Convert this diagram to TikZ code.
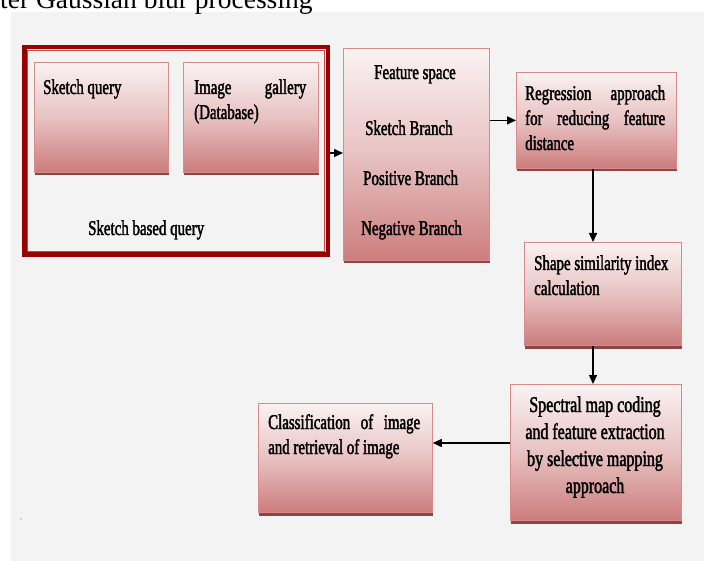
\documentclass[tikz,border=0pt]{standalone}
\usepackage{fontspec}
\setmainfont{Liberation Serif}[FakeStretch=0.71,FakeBold=1.8]
\newfontfamily\capfont{Liberation Serif}
\usetikzlibrary{arrows.meta}
\definecolor{bg}{HTML}{F3F3F3}
\definecolor{frameRed}{HTML}{990000}
\definecolor{frameIn}{HTML}{C04848}
\definecolor{boxTop}{HTML}{FAF2F2}
\definecolor{boxMid}{HTML}{E8C2C2}
\definecolor{boxBot}{HTML}{CC7C7C}
\definecolor{boxEdge}{HTML}{D88A8A}
\definecolor{boxShade}{HTML}{8A4545}
\tikzset{
  pbox/.style={rectangle, draw=boxEdge, line width=0.8pt, top color=boxTop, bottom color=boxBot, middle color=boxMid, inner sep=0pt, anchor=north west},
  lbl/.style={inner sep=0pt, anchor=base west, font=\fontsize{21}{25}\selectfont},
  biglbl/.style={inner sep=0pt, anchor=base, font=\fontsize{22.5}{27}\selectfont},
  arr/.style={line width=1.5pt, -{Triangle[length=9pt,width=8pt]}},
}
\newcommand\mybox[5]{%
  \fill[boxShade] (#2+1,#3+3) rectangle (#4+1,#5+3.5);
  \node[pbox, minimum width={#4pt-#2pt}, minimum height={#5pt-#3pt}] (#1) at (#2,#3) {};
}
\begin{document}
\begin{tikzpicture}[x=1pt,y=-1pt]
\useasboundingbox (0,0) rectangle (704,561);
\fill[white] (0,0) rectangle (704,561);
\fill[bg] (11,12) rectangle (704,561);
\node[inner sep=0pt, anchor=base west, font=\capfont\fontsize{27.5}{30}\selectfont] (cap) at (0,9) {ter Gaussian blur processing};

% outer frame
\node[draw=frameRed, line width=4.5pt, minimum width=303.5pt, minimum height=207.5pt, inner sep=0pt] (frame) at (176,151) {};
\draw[frameIn, line width=0.8pt] ([shift={(5.5pt,-5.5pt)}]frame.north west) rectangle ([shift={(-5.5pt,5.5pt)}]frame.south east);

\mybox{sq}{34}{62}{168}{172}
\mybox{ig}{183}{62}{318}{172}
\mybox{feat}{343}{48}{489}{260}
\mybox{reg}{516}{72}{676}{168}
\mybox{shp}{524}{242}{681}{345}
\mybox{spec}{510}{384}{681}{520}
\mybox{cls}{258}{403}{432}{512}

% texts
\node[lbl] (t1) at (43,94) {Sketch query};
\node[lbl] (t2) at (194,94) {\makebox[112pt][s]{Image gallery}};
\node[lbl] (t3) at (194,119) {(Database)};
\node[lbl] (t4) at (88,235) {Sketch based query};
\node[lbl, anchor=base] (t5) at (415,79) {Feature space};
\node[lbl] (t6) at (365,135) {Sketch Branch};
\node[lbl] (t7) at (363,185) {Positive Branch};
\node[lbl] (t8) at (361,235) {Negative Branch};
\node[lbl] (t9) at (525,100) {\makebox[140pt][s]{Regression approach}};
\node[lbl] (t10) at (525,125) {\makebox[140pt][s]{for reducing feature}};
\node[lbl] (t11) at (525,150) {distance};
\node[lbl] (t12) at (534,270) {Shape similarity index};
\node[lbl] (t13) at (534,295) {calculation};
\node[biglbl] (t14) at (595,412) {Spectral map coding};
\node[biglbl] (t15) at (595,439) {and feature extraction};
\node[biglbl] (t16) at (595,466) {by selective mapping};
\node[biglbl] (t17) at (595,493) {approach};
\node[lbl] (t18) at (268,429) {\makebox[152pt][s]{Classification of image}};
\node[lbl] (t19) at (268,454) {and retrieval of image};
\node[inner sep=0pt, font=\fontsize{8}{8}\selectfont, text=gray] (dot) at (21,519) {.};

% connectors
\coordinate (ay1) at (0,153);
\coordinate (ax) at (593,0);
\coordinate (ay2) at (0,443);
\draw[arr] (frame.east |- ay1) -- (feat.west |- ay1);
\draw[arr] (feat.east |- reg.west) -- (reg.west);
\draw[arr] (reg.south -| ax) -- (shp.north -| ax);
\draw[arr] (shp.south -| ax) -- (spec.north -| ax);
\draw[arr] (spec.west |- ay2) -- (cls.east |- ay2);
\end{tikzpicture}
\end{document}
